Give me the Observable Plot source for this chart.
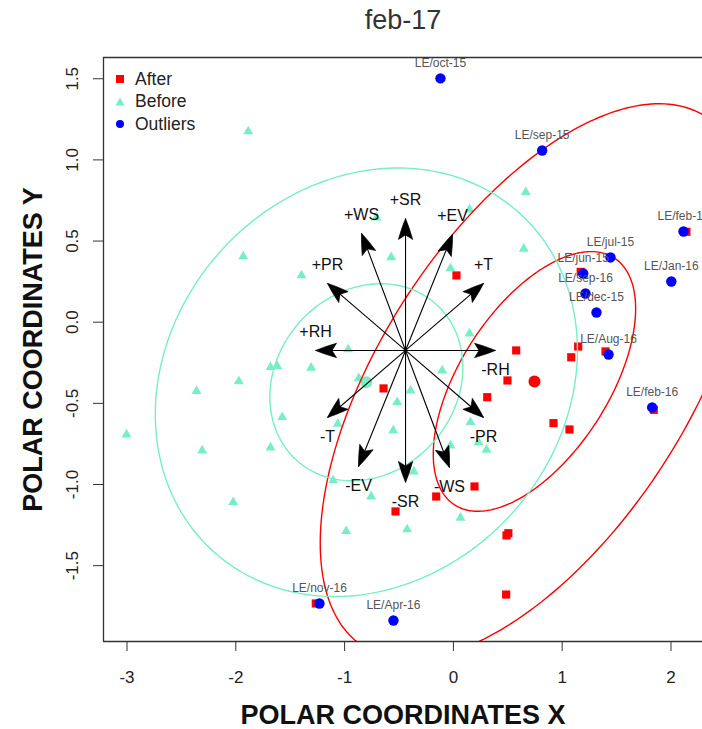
<!DOCTYPE html>
<html>
<head>
<meta charset="utf-8">
<script src="https://cdn.jsdelivr.net/npm/d3@7"></script>
<script src="https://cdn.jsdelivr.net/npm/@observablehq/plot@0.6"></script>
<style>
  body { margin: 0; background: #fff; }
  #wrap { position: relative; width: 702px; height: 729px; overflow: hidden; font-family: "Liberation Sans", Arial, sans-serif; }
  .lg { position: absolute; left: 113px; height: 22px; display: flex; align-items: center; font-size: 17.5px; color: #222; }
  .lg svg { width: 14px; height: 14px; margin-right: 8px; }
</style>
</head>
<body>
<div id="wrap"></div>
<script>
// ---------------- data ----------------
const afterX = [0.028, -0.642, 0.577, 0.497, 0.311, 1.083, 1.147, 0.920, 1.067, 0.194, -0.158, -0.532, 0.488, 0.505, 0.485, 2.142, 1.170, 1.398, 1.842, -1.265];
const afterY = [0.288, -0.408, -0.174, -0.359, -0.462, -0.216, -0.150, -0.622, -0.661, -1.012, -1.074, -1.166, -1.314, -1.300, -1.678, 0.557, 0.310, -0.180, -0.540, -1.733];

const beforeX = [-3.005, -1.932, -1.886, -1.396, -1.972, -2.361, -2.309, -2.024, -1.681, -1.681, -1.619, -1.574, -1.307, -1.062, -0.967, -0.869, -0.707, -0.572, -0.553, -0.517, -0.394, -0.364, -0.425, -0.756, -0.985, -1.105, -0.103, -0.027, 0.148, 0.157, 0.231, 0.304, -0.027, 0.065, 0.148, 0.665, 0.647];
const beforeY = [-0.692, 0.405, 1.175, 0.288, -0.364, -0.425, -0.791, -1.109, -0.772, -0.277, -0.271, -0.585, -0.281, -0.626, -0.168, -0.345, 0.645, 0.400, -0.667, -0.493, -0.421, -0.920, -1.277, -1.074, -1.288, -0.975, -0.298, 0.331, -0.070, -0.616, -0.739, -0.786, -0.760, -1.205, 0.694, 0.801, 0.452];

const outlierLabel = ["LE/oct-15", "LE/sep-15", "LE/feb-17", "LE/jul-15", "LE/Jan-16", "LE/jun-15", "LE/sep-16", "LE/dec-15", "LE/Aug-16", "LE/feb-16", "LE/nov-16", "LE/Apr-16"];
const outlierX = [-0.119, 0.816, 2.115, 1.444, 2.003, 1.193, 1.214, 1.315, 1.426, 1.827, -1.231, -0.551];
const outlierY = [1.502, 1.058, 0.559, 0.399, 0.251, 0.300, 0.177, 0.060, -0.199, -0.525, -1.733, -1.838];

// group centroids (After, Before)
const centroidGroup = ["After", "Before"];
const centroidX = [0.745, -0.800];
const centroidY = [-0.365, -0.370];

// concentration ellipses: group, semi-axes along x / y, correlation
const ellipseGroup = ["After", "After", "Before", "Before"];
const ellipseSx = [1.969, 0.930, 1.940, 0.887];
const ellipseSy = [1.711, 0.800, 1.320, 0.607];
const ellipseRho = [0.582, 0.560, 0.150, 0.150];

// variable vectors (biplot arrows)
const arrowOrigin = [-0.440, -0.174];
const arrowNames = ["SR", "WS", "EV", "T", "PR", "RH"];
const arrowDX = [0.000, -0.404, 0.432, 0.717, -0.717, -0.827];
const arrowDY = [0.813, 0.721, 0.715, 0.413, 0.413, 0.000];

const xTicks = [-3, -2, -1, 0, 1, 2];
const yTicks = [-1.5, -1, -0.5, 0, 0.5, 1, 1.5];
const yTickLabels = ["-1.5", "-1.0", "-0.5", "0.0", "0.5", "1.0", "1.5"];

const titleText = "feb-17";
const xTitle = "POLAR COORDINATES X";
const yTitle = "POLAR COORDINATES Y";
const legendLabels = ["After", "Before", "Outliers"];

// ---------------- styles / layout ----------------
const RED = "#FF0000", AQUA = "#76EEC6", BLUE = "#0000FF";
const W = 702, H = 729, ML = 103, MR = 0, MT = 57, MB = 88;
const xDom = [-3.2161, 2.2896], yDom = [-1.9673, 1.6309];
const kx = (W - ML - MR) / (xDom[1] - xDom[0]);
const ky = (H - MT - MB) / (yDom[1] - yDom[0]);

// ---------------- build tables ----------------
const after = afterX.map((x, i) => ({x, y: afterY[i]}));
const before = beforeX.map((x, i) => ({x, y: beforeY[i]}));
const outliers = outlierX.map((x, i) => ({x, y: outlierY[i], label: outlierLabel[i]}));
const centroids = centroidX.map((x, i) => ({x, y: centroidY[i], group: centroidGroup[i]}));

const ellipsePts = [];
ellipseGroup.forEach((g, i) => {
  const c = centroids.find(d => d.group === g);
  const r = ellipseRho[i], s = Math.sqrt(1 - r * r);
  for (let k = 0; k <= 240; k++) {
    const t = 2 * Math.PI * k / 240;
    ellipsePts.push({
      id: i, group: g,
      x: c.x + ellipseSx[i] * Math.cos(t),
      y: c.y + ellipseSy[i] * (r * Math.cos(t) + s * Math.sin(t))
    });
  }
});

const tips = [];
arrowNames.forEach((n, i) => {
  [1, -1].forEach(sg => tips.push({
    label: (sg > 0 ? "+" : "-") + n, sign: sg,
    dx: sg * arrowDX[i], dy: sg * arrowDY[i],
    x: arrowOrigin[0] + sg * arrowDX[i], y: arrowOrigin[1] + sg * arrowDY[i]
  }));
});

// filled dart arrowhead, tip at origin pointing up
const dart = {
  draw(ctx) {
    ctx.moveTo(0, 0);
    ctx.quadraticCurveTo(3.5, 8, 7.2, 21);
    ctx.lineTo(0, 16.5);
    ctx.lineTo(-7.2, 21);
    ctx.quadraticCurveTo(-3.5, 8, 0, 0);
    ctx.closePath();
  }
};

const plot = Plot.plot({
  width: W, height: H,
  marginLeft: ML, marginRight: MR, marginTop: MT, marginBottom: MB,
  x: {domain: xDom},
  y: {domain: yDom},
  style: {fontFamily: "'Liberation Sans', Arial, sans-serif", background: "white", overflow: "visible", color: "#222"},
  marks: [
    Plot.dot(before, {x: "x", y: "y", symbol: "triangle", r: 3.7, fill: AQUA, stroke: "none", clip: true}),
    Plot.dot(after, {x: "x", y: "y", symbol: "square", r: 4.6, fill: RED, stroke: "none", clip: true}),
    Plot.dot(centroids, {x: "x", y: "y", r: 6, fill: d => d.group === "After" ? RED : AQUA, stroke: "none", clip: true}),
    Plot.line(ellipsePts, {x: "x", y: "y", z: "id", stroke: d => d.group === "After" ? RED : AQUA, strokeWidth: 1.4, clip: true}),
    Plot.link(tips, {x1: () => arrowOrigin[0], y1: () => arrowOrigin[1], x2: "x", y2: "y", stroke: "black", strokeWidth: 1.1}),
    Plot.dot(tips, {x: "x", y: "y", symbol: dart, r: 5, fill: "black", stroke: "black", strokeWidth: 0.6,
      rotate: d => Math.atan2(d.dx * kx, d.dy * ky) * 180 / Math.PI}),
    Plot.text(tips.filter(d => d.sign > 0), {x: "x", y: "y", text: "label", dy: -19, fontSize: 16, fill: "#111"}),
    Plot.text(tips.filter(d => d.sign < 0), {x: "x", y: "y", text: "label", dy: 19, fontSize: 16, fill: "#111"}),
    Plot.dot(outliers, {x: "x", y: "y", r: 5.2, fill: BLUE, stroke: "none", clip: true}),
    Plot.text(outliers, {x: "x", y: "y", text: "label", dy: -15, fontSize: 12, fill: "#555"}),
    // frame (right side lies outside the picture)
    Plot.ruleY([yDom[0], yDom[1]], {stroke: "#333", strokeWidth: 1.3}),
    Plot.ruleX([xDom[0]], {stroke: "#333", strokeWidth: 1.3}),
    // axes
    Plot.axisX({ticks: xTicks, tickSize: 10, tickPadding: 19, fontSize: 17, tickFormat: d => String(d), label: null, stroke: "#333"}),
    Plot.axisY({ticks: yTicks, tickSize: 10, tickFormat: () => "", label: null, stroke: "#333"}),
    Plot.text(yTicks, {y: d => d, text: (d, i) => yTickLabels[i], frameAnchor: "left", textAnchor: "middle", dx: -31, rotate: -90, fontSize: 17, lineAnchor: "middle", fill: "#222"}),
    // titles
    Plot.text([titleText], {text: d => d, frameAnchor: "top", textAnchor: "middle", dy: -37, fontSize: 27, fill: "#333", lineAnchor: "middle"}),
    Plot.text([xTitle], {text: d => d, frameAnchor: "bottom", textAnchor: "middle", dy: 74, fontSize: 27, fontWeight: "bold", fill: "#111", lineAnchor: "middle"}),
    Plot.text([yTitle], {text: d => d, frameAnchor: "left", textAnchor: "middle", dx: -70, rotate: -90, fontSize: 27, fontWeight: "bold", fill: "#111", lineAnchor: "middle"})
  ]
});

const wrap = document.getElementById("wrap");
wrap.appendChild(plot);

// legend (inside plot, top-left, as in the original)
const legendSym = [
  `<rect x="3" y="3" width="8" height="8" fill="${RED}"/>`,
  `<path d="M7,2.5 L11.5,10.5 L2.5,10.5 Z" fill="${AQUA}"/>`,
  `<circle cx="7" cy="7" r="4" fill="${BLUE}"/>`
];
const rowCenters = [79, 101.7, 124.3];
legendLabels.forEach((lab, i) => {
  const d = document.createElement("div");
  d.className = "lg";
  d.style.top = (rowCenters[i] - 11) + "px";
  d.innerHTML = `<svg viewBox="0 0 14 14">${legendSym[i]}</svg><span>${lab}</span>`;
  wrap.appendChild(d);
});
</script>
</body>
</html>
